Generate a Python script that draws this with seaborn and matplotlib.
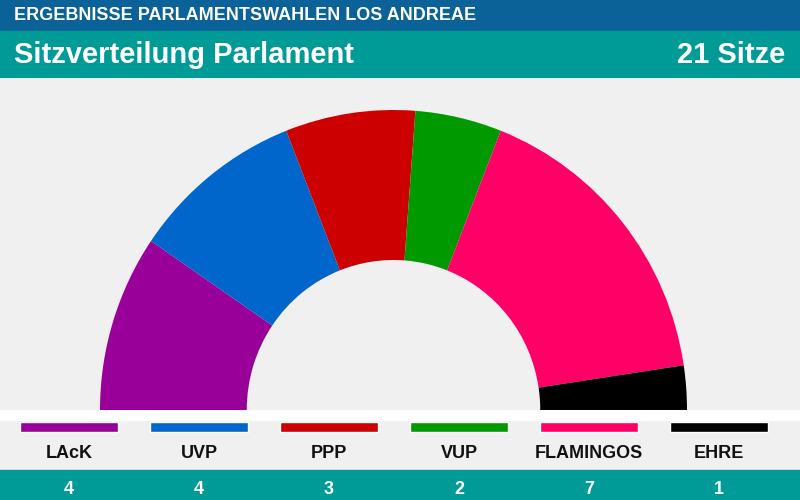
import matplotlib
matplotlib.use("Agg")
import matplotlib.pyplot as plt
import seaborn as sns

# seat distribution
parties = ["LAcK", "UVP", "PPP", "VUP", "FLAMINGOS", "EHRE"]
seats = [4, 4, 3, 2, 7, 1]
colors = ["#990099", "#0066cc", "#cc0000", "#009900", "#ff0066", "#000000"]

title_top = "ERGEBNISSE PARLAMENTSWAHLEN LOS ANDREAE"
title_main = "Sitzverteilung Parlament"
total_label = f"{sum(seats)} Sitze"

sns.set_theme(style="white")
plt.rcParams["font.family"] = ["Liberation Sans Narrow", "Liberation Sans", "DejaVu Sans"]

bg = "#f0f0f0"
blue = "#0a6298"
teal = "#009a97"

fig = plt.figure(figsize=(8, 5), dpi=100, facecolor=bg)

# header (pixel coords, y downwards)
ax_head = fig.add_axes([0, 1 - 78 / 500, 1, 78 / 500])
ax_head.set_xlim(0, 800)
ax_head.set_ylim(78, 0)
ax_head.axis("off")
ax_head.axhspan(0, 31, color=blue)
ax_head.axhspan(31, 78, color=teal)
ax_head.text(14, 16, title_top, color="white", fontsize=13, fontweight="bold", va="center", ha="left")
ax_head.text(14, 55, title_main, color="white", fontsize=21, fontweight="bold", va="center", ha="left")
ax_head.text(785, 55, total_label, color="white", fontsize=21, fontweight="bold", va="center", ha="right")

# half donut
ax_pie = fig.add_axes([100 / 800, 90 / 500, 587 / 800, 300 / 500])
ax_pie.pie(seats + [sum(seats)], colors=colors + ["none"], startangle=180, counterclock=False,
           radius=1, wedgeprops=dict(width=0.5, linewidth=0))
ax_pie.set_aspect("auto")
ax_pie.set_xlim(-1, 1)
ax_pie.set_ylim(0, 1)
ax_pie.axis("off")

# legend strip
ax_leg = fig.add_axes([0, 0, 1, 90 / 500])
ax_leg.set_facecolor(bg)
sns.barplot(x=parties, y=[1] * len(parties), hue=parties, palette=colors, width=0.75,
            legend=False, ax=ax_leg, saturation=1)
ax_leg.set_xlim(-69 / 130, (800 - 69) / 130)
ax_leg.set_ylim(-6.8, 2.2)
ax_leg.axhspan(1.2, 2.3, color="white", zorder=0)
ax_leg.axhspan(-7, -3.8, color=teal, zorder=0)
for i, (p, s) in enumerate(zip(parties, seats)):
    ax_leg.text(i, -2.1, p, ha="center", va="center", fontsize=13, fontweight="bold", color="#111111")
    ax_leg.text(i, -5.7, str(s), ha="center", va="center", fontsize=13, fontweight="bold", color="white")
ax_leg.axis("off")

fig.savefig("out.png", dpi=100, facecolor=bg)
